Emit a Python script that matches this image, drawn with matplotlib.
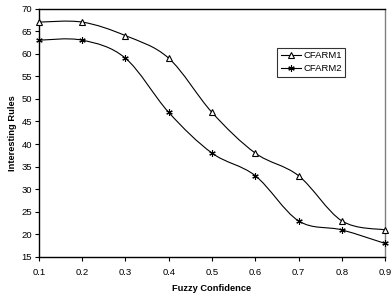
import matplotlib
matplotlib.use("Agg")
import matplotlib.pyplot as plt
from matplotlib.path import Path
from matplotlib.patches import PathPatch
from matplotlib.lines import Line2D
import numpy as np

plt.rcParams['font.family'] = ['Liberation Sans', 'DejaVu Sans']

confidence = [0.1, 0.2, 0.3, 0.4, 0.5, 0.6, 0.7, 0.8, 0.9]
cfarm1 = [67, 67, 64, 59, 47, 38, 33, 23, 21]
cfarm2 = [63, 63, 59, 47, 38, 33, 23, 21, 18]
series_names = ["CFARM1", "CFARM2"]
x_ticks = [0.1, 0.2, 0.3, 0.4, 0.5, 0.6, 0.7, 0.8, 0.9]
y_ticks = [15, 20, 25, 30, 35, 40, 45, 50, 55, 60, 65, 70]


def smooth_path(xs, ys):
    pts = np.column_stack([xs, ys]).astype(float)
    n = len(pts)
    verts = [pts[0]]
    codes = [Path.MOVETO]
    for i in range(n - 1):
        p0 = pts[i - 1] if i > 0 else pts[i]
        p1 = pts[i]
        p2 = pts[i + 1]
        p3 = pts[i + 2] if i + 2 < n else pts[i + 1]
        c1 = p1 + (p2 - p0) / 6.0
        c2 = p2 - (p3 - p1) / 6.0
        verts += [c1, c2, p2]
        codes += [Path.CURVE4] * 3
    return Path(verts, codes)


fig = plt.figure(figsize=(3.91, 2.94), dpi=100)
ax = fig.add_axes([0.0997, 0.1259, 0.885, 0.845])

markers = ['^', (6, 2, 0)]
for ys, mk, name in zip([cfarm1, cfarm2], markers, series_names):
    patch = PathPatch(smooth_path(confidence, ys), facecolor='none',
                      edgecolor='black', lw=0.8, zorder=2)
    ax.add_patch(patch)
    ax.plot(confidence, ys, linestyle='none', marker=mk, markersize=4.6,
            markerfacecolor='white' if mk == '^' else 'black',
            markeredgecolor='black', markeredgewidth=0.8, zorder=3, label=name,
            clip_on=False)

ax.set_xlim(0.1, 0.9)
ax.set_ylim(15, 70)
ax.set_xticks(x_ticks)
ax.set_xticklabels([f"{v:.1f}" for v in x_ticks])
ax.set_yticks(y_ticks)
ax.tick_params(axis='both', direction='out', length=3, width=0.8,
               labelsize=6.8, colors='black', pad=2)
ax.tick_params(axis='x', pad=5)
for s in ['left', 'bottom', 'top']:
    ax.spines[s].set_color('black')
    ax.spines[s].set_linewidth(1.0)
ax.spines['right'].set_color('#808080')
ax.spines['right'].set_linewidth(1.0)

ax.set_xlabel("Fuzzy Confidence", fontsize=6.7, fontweight='bold', labelpad=5)
ax.set_ylabel("Interesting Rules", fontsize=6.7, fontweight='bold', labelpad=3)

handles = [Line2D([], [], color='black', lw=0.8, marker=m, markersize=4.6,
                  markerfacecolor='white' if m == '^' else 'black',
                  markeredgecolor='black', markeredgewidth=0.8)
           for m in markers]
leg = ax.legend(handles, series_names, loc='upper left',
                bbox_to_anchor=(0.689, 0.842), fontsize=6.8, frameon=True,
                fancybox=False, edgecolor='black', handlelength=2.2,
                handletextpad=0.2, borderpad=0.35, labelspacing=0.45,
                borderaxespad=0)
leg.get_frame().set_linewidth(0.8)

fig.savefig("out.png", dpi=100)
